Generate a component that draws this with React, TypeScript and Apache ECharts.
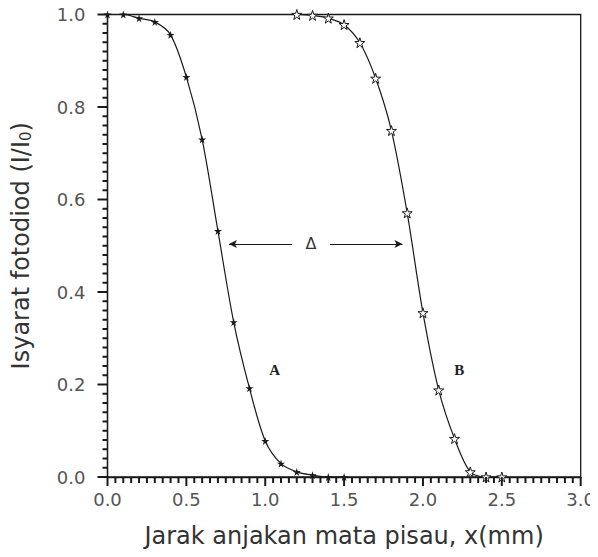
import React, { useEffect, useRef } from "react";
import * as echarts from "echarts";

const xA = [0, 0.1, 0.2, 0.3, 0.4, 0.5, 0.6, 0.7, 0.8, 0.9, 1.0, 1.1, 1.2, 1.3, 1.4, 1.5];
const yA = [1.0, 1.0, 0.992, 0.984, 0.956, 0.865, 0.73, 0.532, 0.335, 0.192, 0.078, 0.029, 0.011, 0.004, 0.0, 0.0];
const xB = [1.2, 1.3, 1.4, 1.5, 1.6, 1.7, 1.8, 1.9, 2.0, 2.1, 2.2, 2.3, 2.4, 2.5];
const yB = [1.0, 0.998, 0.992, 0.978, 0.939, 0.862, 0.749, 0.571, 0.355, 0.188, 0.083, 0.011, 0.0, 0.0];

const deltaY = 0.504;
const deltaLeft = [1.17, 0.77];
const deltaRight = [1.41, 1.87];
const deltaLabelX = 1.29;
const labelA = [1.06, 0.231];
const labelB = [2.23, 0.231];

// tick positions (x: every 0.05, major every 0.5; y: every 0.02, major every 0.2)
const xMajor = Array.from({ length: 7 }, (_, i) => i * 0.5);
const xMinor = Array.from({ length: 61 }, (_, i) => Math.round(i * 5) / 100).filter((_, i) => i % 10 !== 0);
const yMajor = Array.from({ length: 6 }, (_, i) => Math.round(i * 2) / 10);
const yMinor = Array.from({ length: 51 }, (_, i) => Math.round(i * 2) / 100).filter((_, i) => i % 10 !== 0);

const STAR =
  "path://M50,0 L61,35 L98,35 L68,57 L79,91 L50,70 L21,91 L32,57 L2,35 L39,35 Z";

export default function App() {
  const ref = useRef<HTMLDivElement>(null);
  useEffect(() => {
    if (!ref.current) return;
    const chart = echarts.init(ref.current, undefined, { renderer: "svg" });
    const ink = "#1a1a1a";
    const labelStyle = {
      fontFamily: "DejaVu Sans",
      fontSize: 18,
      color: "#555",
      formatter: (v: number) => v.toFixed(1),
    };
    const xTickSeries = (vals: number[], len: number) => ({
      type: "custom",
      clip: false,
      silent: true,
      z: 5,
      data: vals.map((v) => [v, 0]),
      encode: { x: 0, y: 1 },
      renderItem: (_p: any, api: any) => {
        const p = api.coord([api.value(0), 0]);
        return {
          type: "line",
          shape: { x1: p[0], y1: p[1], x2: p[0], y2: p[1] + len },
          style: { stroke: ink, lineWidth: 2 },
        };
      },
    });
    const yTickSeries = (vals: number[], len: number) => ({
      type: "custom",
      clip: false,
      silent: true,
      z: 5,
      data: vals.map((v) => [0, v]),
      encode: { x: 0, y: 1 },
      renderItem: (_p: any, api: any) => {
        const p = api.coord([0, api.value(1)]);
        return {
          type: "line",
          shape: { x1: p[0] - len, y1: p[1], x2: p[0], y2: p[1] },
          style: { stroke: ink, lineWidth: 2 },
        };
      },
    });
    const option = {
      animation: false,
      backgroundColor: "#fff",
      grid: {
        left: 107.5,
        right: 11,
        top: 14.5,
        bottom: 80,
        show: true,
        borderColor: ink,
        borderWidth: 1.3,
        backgroundColor: "transparent",
      },
      xAxis: {
        type: "value",
        min: 0,
        max: 3,
        interval: 0.5,
        name: "Jarak anjakan mata pisau, x(mm)",
        nameLocation: "middle",
        nameGap: 47,
        nameTextStyle: { fontFamily: "DejaVu Sans", fontSize: 24, color: "#333" },
        axisLine: { show: true, lineStyle: { color: ink, width: 1.3 } },
        axisTick: { show: false },
        splitLine: { show: false },
        axisLabel: { margin: 13, ...labelStyle },
      },
      yAxis: {
        type: "value",
        min: 0,
        max: 1,
        interval: 0.2,
        name: "Isyarat fotodiod (I/I{sub|0})",
        nameLocation: "middle",
        nameGap: 74,
        nameTextStyle: {
          fontFamily: "DejaVu Sans",
          fontSize: 24,
          color: "#333",
          rich: {
            sub: { fontFamily: "DejaVu Sans", fontSize: 15, color: "#333", verticalAlign: "bottom", padding: [10, 0, 0, 0] },
          },
        },
        axisLine: { show: true, lineStyle: { color: ink, width: 1.3 } },
        axisTick: { show: false },
        splitLine: { show: false },
        axisLabel: { margin: 22, ...labelStyle },
      },
      series: [
        xTickSeries(xMajor, 9),
        xTickSeries(xMinor, 6),
        yTickSeries(yMajor, 10),
        yTickSeries(yMinor, 5),
        {
          name: "A",
          type: "line",
          data: xA.map((x, i) => [x, yA[i]]),
          smooth: 0.3,
          symbol: STAR,
          symbolSize: 8,
          showAllSymbol: true,
          z: 3,
          lineStyle: { color: ink, width: 1.2 },
          itemStyle: { color: ink, borderWidth: 0 },
          markLine: {
            silent: true,
            symbol: ["none", "arrow"],
            symbolSize: [6, 8],
            lineStyle: { color: ink, width: 1, type: "solid" },
            label: { show: false },
            data: [
              [{ coord: [deltaLeft[0], deltaY] }, { coord: [deltaLeft[1], deltaY] }],
              [{ coord: [deltaRight[0], deltaY] }, { coord: [deltaRight[1], deltaY] }],
            ],
          },
          markPoint: {
            silent: true,
            symbol: "circle",
            symbolSize: 0,
            data: [
              {
                coord: [deltaLabelX, deltaY],
                value: "Δ",
                label: { show: true, formatter: "Δ", fontFamily: "DejaVu Sans", fontSize: 16, color: "#333" },
              },
              {
                coord: labelA,
                value: "A",
                label: { show: true, formatter: "A", fontFamily: "Liberation Serif", fontWeight: "bold", fontSize: 15, color: "#222" },
              },
              {
                coord: labelB,
                value: "B",
                label: { show: true, formatter: "B", fontFamily: "Liberation Serif", fontWeight: "bold", fontSize: 15, color: "#222" },
              },
            ],
          },
        },
        {
          name: "B",
          type: "line",
          data: xB.map((x, i) => [x, yB[i]]),
          smooth: 0.3,
          symbol: STAR,
          symbolSize: 10,
          showAllSymbol: true,
          z: 3,
          lineStyle: { color: ink, width: 1.2 },
          itemStyle: { color: "#fff", borderColor: ink, borderWidth: 1 },
        },
      ],
    };
    chart.setOption(option as any);
    return () => chart.dispose();
  }, []);
  return <div ref={ref} style={{ width: 598, height: 557, margin: -8 }} />;
}
